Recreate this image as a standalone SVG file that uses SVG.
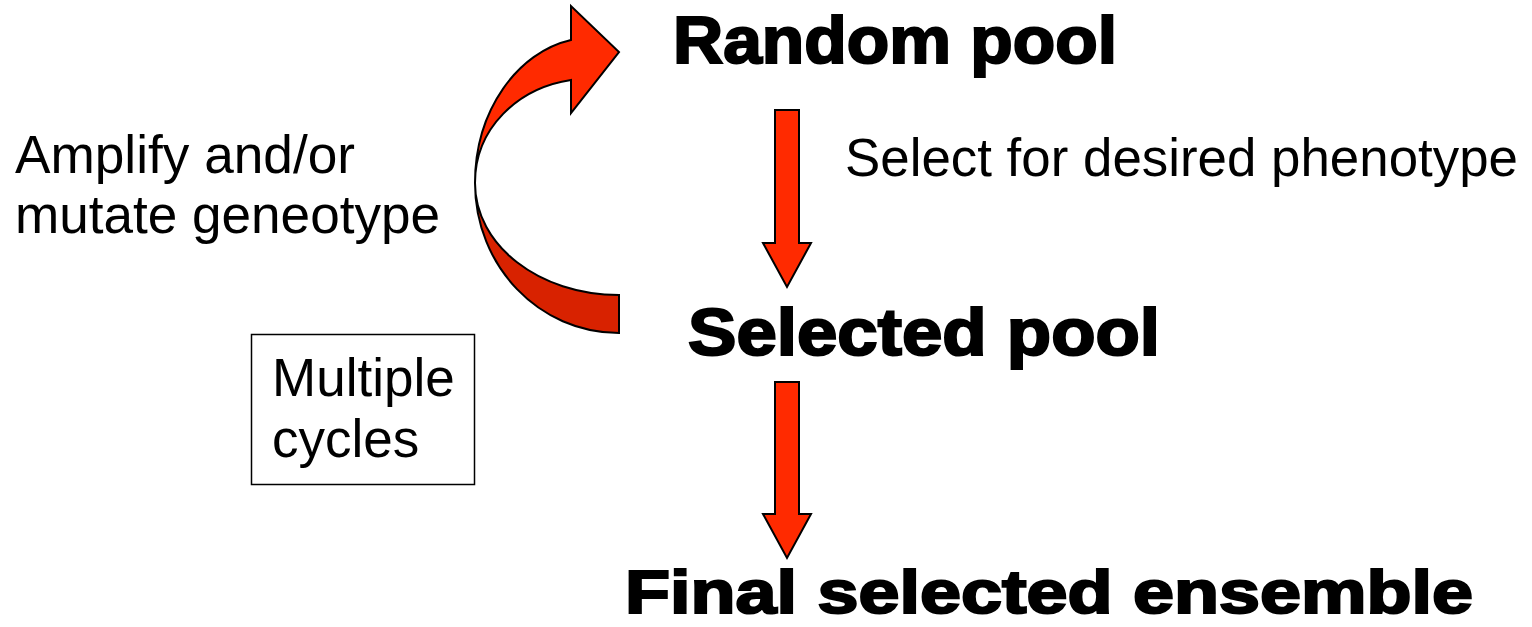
<svg xmlns="http://www.w3.org/2000/svg" width="1532" height="627" viewBox="0 0 1532 627">
<style>
.arrow{fill:#FF2A00;stroke:#000;stroke-width:2;stroke-linejoin:miter}
.dark{fill:#D82200;stroke:#000;stroke-width:2}
.head{font-family:"Liberation Sans",Arial,sans-serif;font-weight:bold;fill:#000;stroke:#000;stroke-width:2.2}
.lbl{font-family:"Liberation Sans",Arial,sans-serif;font-size:53px;fill:#000}
</style>
<rect width="1532" height="627" fill="#fff"/>
<g id="connectors">
<path class="arrow" d="M775,110 L799,110 L799,243 L811,243 L787,287 L763,243 L775,243 Z"/>
<path class="arrow" d="M775,382 L799,382 L799,514 L811,514 L787,558 L763,514 L775,514 Z"/>
<g id="cycle-arrow">
<path class="dark" d="M475,183 C475,266 539,333 619,333 L619,295 C539,295 475,245 475,183 Z"/>
<path class="arrow" d="M475,183 C475,110 518,52 571,40 L571,6 L619,52 L571,113 L571,80 C518,88 475,128 475,183 Z"/>
</g>
</g>
<g id="random-pool"><text class="head" x="673" y="63" font-size="67" textLength="444" lengthAdjust="spacingAndGlyphs">Random pool</text></g>
<g id="selected-pool"><text class="head" x="688" y="355" font-size="66" textLength="472" lengthAdjust="spacingAndGlyphs">Selected pool</text></g>
<g id="final-ensemble"><text class="head" x="625" y="613" font-size="62" textLength="848" lengthAdjust="spacingAndGlyphs">Final selected ensemble</text></g>
<g id="select-label"><text class="lbl" x="845" y="176" textLength="673" lengthAdjust="spacingAndGlyphs">Select for desired phenotype</text></g>
<g id="amplify-label">
<text class="lbl" x="15" y="173" textLength="340" lengthAdjust="spacingAndGlyphs">Amplify and/or</text>
<text class="lbl" x="15" y="233" textLength="425" lengthAdjust="spacingAndGlyphs">mutate geneotype</text>
</g>
<g id="multiple-cycles">
<rect x="251.5" y="334.5" width="223" height="150" fill="#fff" stroke="#000" stroke-width="1.5"/>
<text class="lbl" x="272" y="396">Multiple</text>
<text class="lbl" x="272" y="457">cycles</text>
</g>
</svg>
